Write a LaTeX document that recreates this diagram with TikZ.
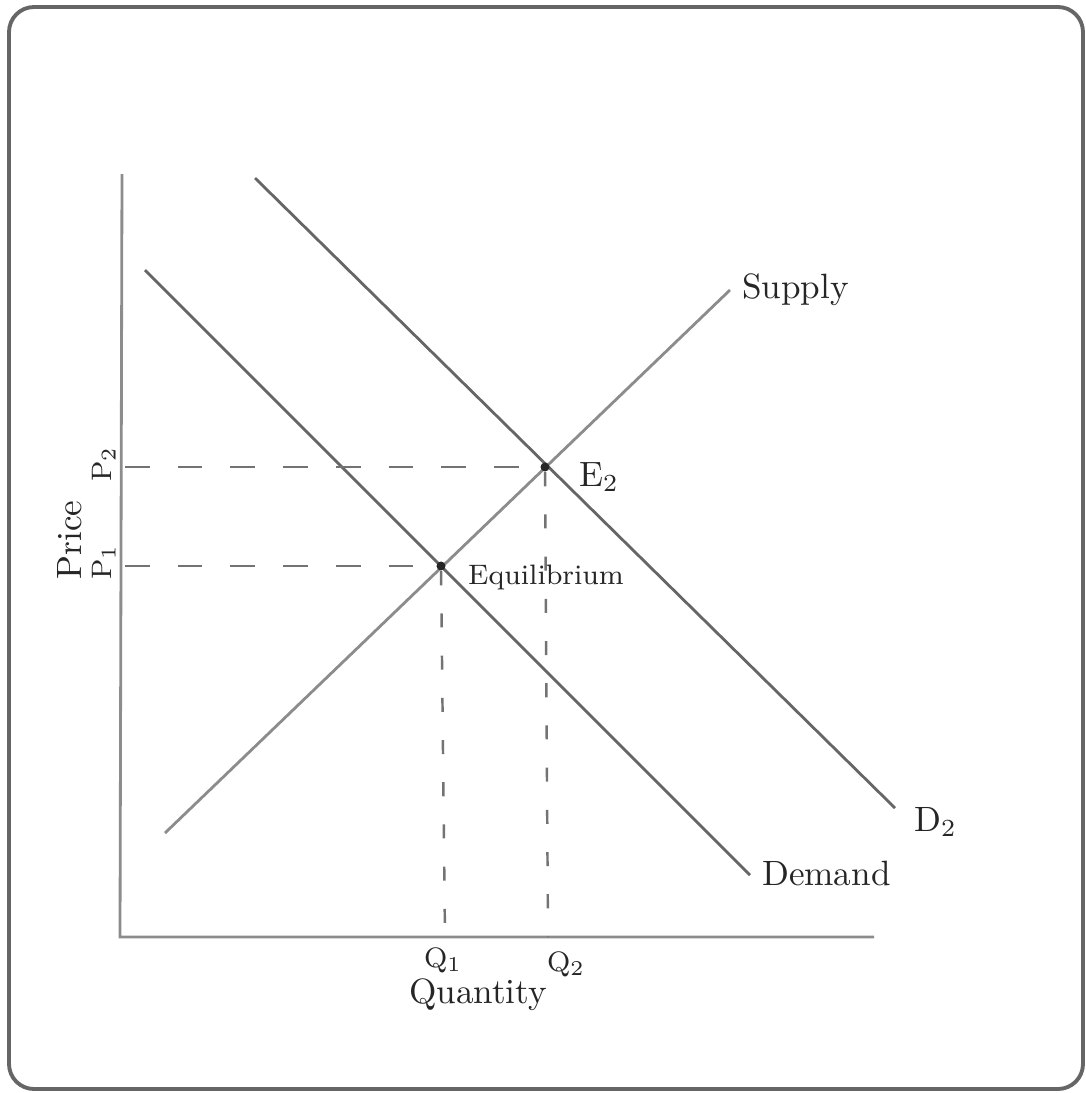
\documentclass[tikz,border=0pt]{standalone}
\begin{document}
\begin{tikzpicture}[x=0.01cm,y=-0.01cm,
  frame/.style={draw=black!60,line width=1.1pt,rounded corners=0.25cm},
  axis/.style={draw=black!45,line width=0.8pt},
  curve/.style={draw=black!60,line width=0.8pt},
  lightcurve/.style={draw=black!45,line width=0.8pt},
  guide/.style={draw=black!55,line width=0.7pt,dash pattern=on 7pt off 8pt},
  vguide/.style={draw=black!55,line width=0.7pt,dash pattern=on 4pt off 8pt},
  pt/.style={circle,fill=black!85,inner sep=0pt,minimum size=0.09cm},
  lab/.style={text=black!85,font=\fontsize{10}{12}\selectfont,inner sep=1pt},
  small/.style={text=black!85,font=\fontsize{8}{10}\selectfont,inner sep=1pt}]
\useasboundingbox (0,0) rectangle (1086,1093);
\draw[frame] (9,7) rectangle (1083,1089);
% axes
\coordinate (ytop) at (122,174);
\coordinate (orig) at (120,937);
\coordinate (xend) at (874,937);
\draw[axis] (ytop) -- (orig) -- (xend);
% curves
\coordinate (dA) at (145,270);
\coordinate (dB) at (750,875);
\coordinate (d2A) at (255,178);
\coordinate (d2B) at (895,808);
\coordinate (sA) at (165,833);
\coordinate (sB) at (730,290);
\draw[curve] (dA) -- (dB);
\draw[curve] (d2A) -- (d2B);
\draw[lightcurve] (sA) -- (sB);
% equilibria
\node[pt] (E1) at (441,566) {};
\node[pt] (E2) at (545,467) {};
\coordinate (p1) at (125,566);
\coordinate (p2) at (125,467);
\coordinate (q1) at (445,937);
\coordinate (q2) at (548,937);
\draw[guide] (p2) -- (E2);
\draw[guide] (p1) -- (E1);
\draw[vguide] (E1) -- (q1);
\draw[vguide] (E2) -- (q2);
% labels
\node[lab,rotate=90] (price) at (70,540) {Price};
\node[small,rotate=90] (P2) at (104,464) {P$_2$};
\node[small,rotate=90] (P1) at (104,562) {P$_1$};
\node[small] (Q1) at (443,960) {Q$_1$};
\node[small] (Q2) at (566,964) {Q$_2$};
\node[lab] (quant) at (478,995) {Quantity};
\node[small,anchor=west] (eqlab) at (464,577) {Equilibrium};
\node[lab,anchor=west] (E2lab) at (575,477) {E$_2$};
\node[lab,anchor=west] (suplab) at (738,290) {Supply};
\node[lab,anchor=west] (D2lab) at (910,822) {D$_2$};
\node[lab,anchor=west] (demlab) at (758,873) {Demand};
\end{tikzpicture}
\end{document}
